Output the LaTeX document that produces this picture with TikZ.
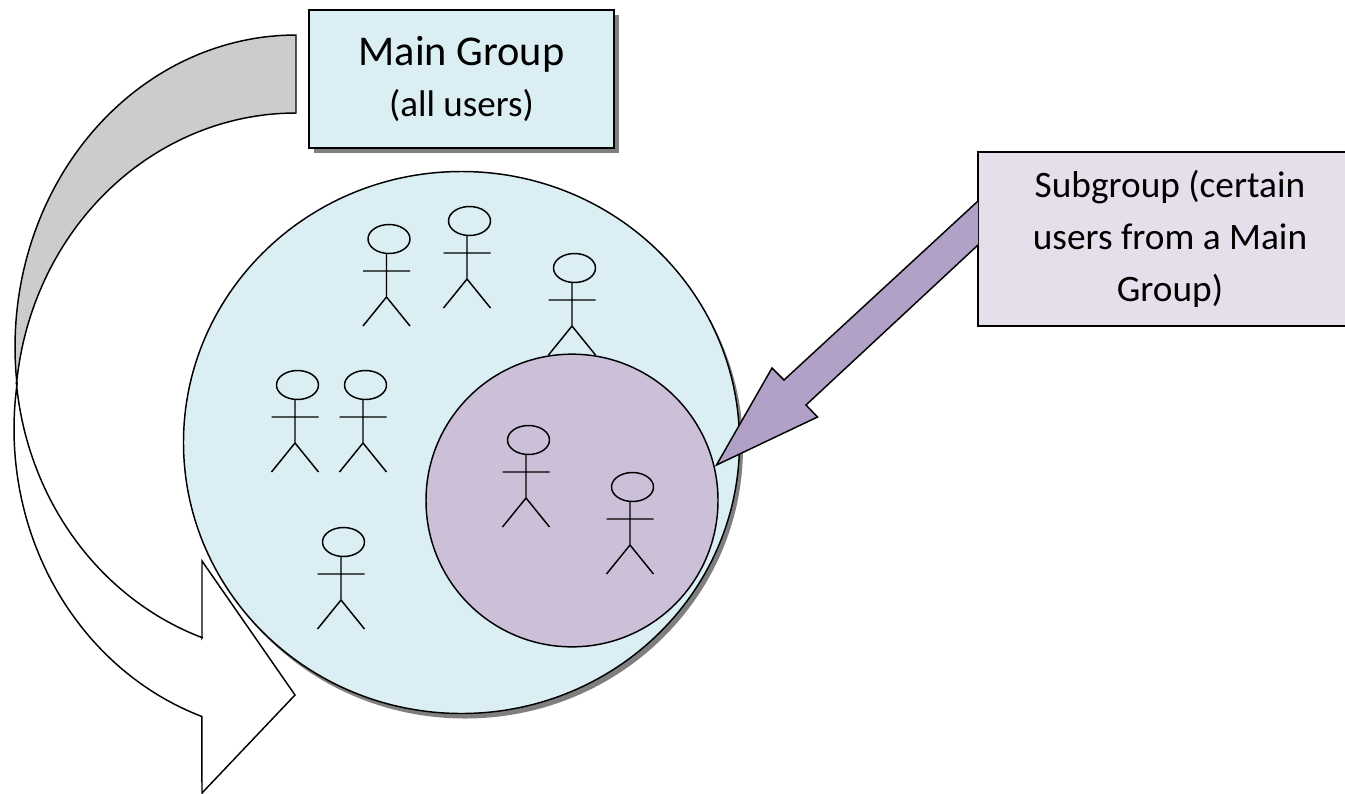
\documentclass[tikz,border=0pt]{standalone}
\usepackage{fontspec}
\setmainfont{Carlito}
\usetikzlibrary{shapes.geometric}
\definecolor{lblue}{HTML}{DAEEF3}
\definecolor{lpurple}{HTML}{CCC0D9}
\definecolor{paleviolet}{HTML}{E5DFEC}
\definecolor{midviolet}{HTML}{B2A1C7}
\definecolor{greyband}{HTML}{CCCCCC}
\definecolor{shadowgrey}{HTML}{7F7F7F}
\tikzset{
  outline/.style={draw=black,line width=1.1pt,line join=miter},
  circ/.style={ellipse,outline,inner sep=0pt},
  labelbox/.style={rectangle,outline,inner sep=0pt,align=center},
  person/.pic={
    \draw[line width=1.1pt] (2.5,-58) ellipse [x radius=21,y radius=14.5];
    \draw[line width=1.1pt] (0,-43) -- (0,0) (-23.5,-26) -- (23.5,-26) (-23.5,29) -- (0,0) -- (23.5,29);
  }
}
\begin{document}
\begin{tikzpicture}[x=0.75pt,y=-0.75pt]
\clip (0,0) rectangle (1345,793);
% curved arrow, back band
\draw[outline,fill=greyband] plot[domain=270:173.4,samples=70] ({296+281*cos(\x)},{347+312*sin(\x)})
  -- plot[domain=186.1:270,samples=70] ({296+281*cos(\x)},{415+302*sin(\x)}) -- cycle;
% curved arrow, front with head
\draw[outline,fill=white] plot[domain=188.6:109.5,samples=70] ({296+282*cos(\x)},{429+305*sin(\x)})
  -- (202,793) -- (295,695) -- (202,561) -- (202,638)
  -- plot[domain=109.5:174.3,samples=70] ({296+281*cos(\x)},{353+302*sin(\x)}) -- cycle;
% main circle
\fill[shadowgrey] (465,447.5) ellipse [x radius=278,y radius=271];
\node[circ,fill=lblue,minimum width=417pt,minimum height=406.5pt] (main) at (461.5,442.5) {};
\pic at (386.5,297) {person};
\pic at (467,279) {person};
\pic at (572,326) {person};
\pic at (295,443) {person};
\pic at (363,443) {person};
\pic at (341,600) {person};
\node[circ,fill=lpurple,minimum width=219pt,minimum height=219.5pt] (sub) at (572,500.5) {};
\pic at (526,498) {person};
\pic at (630,545) {person};
% main box
\fill[shadowgrey] (314,15) rectangle (619,153);
\node[labelbox,fill=lblue,minimum width=228.75pt,minimum height=103.5pt] (mainbox) at (461.5,79)
  {\fontsize{31.8pt}{38pt}\selectfont Main Group\\[12.5pt]\fontsize{27.8pt}{33pt}\selectfont (all users)};
% subgroup box and pointer
\node[labelbox,fill=paleviolet,minimum width=288pt,minimum height=130.5pt,font=\fontsize{28pt}{38.8pt}\selectfont] (subbox) at (1170,239)
  {Subgroup (certain\\users from a Main\\Group)};
\draw[outline,fill=midviolet] (978,201) -- (784,380) -- (772,368) -- (716.5,465) -- (817.5,417) -- (806,405) -- (978,245);
\end{tikzpicture}
\end{document}
